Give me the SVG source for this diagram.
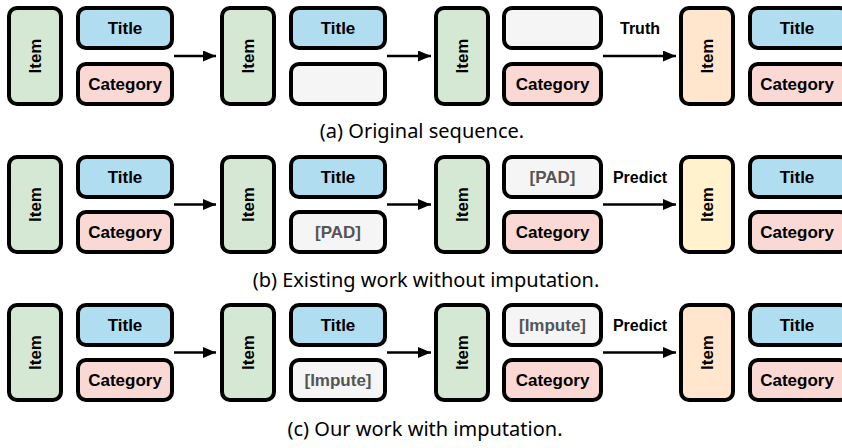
<svg xmlns="http://www.w3.org/2000/svg" width="842" height="448" viewBox="0 0 842 448">
<style>
.box{stroke:#000;stroke-width:4}
.item{fill:#d5e8d4}
.truth{fill:#ffe6cc}
.pred{fill:#fff2cc}
.title{fill:#b1ddf0}
.cat{fill:#fad9d5}
.empty{fill:#f5f5f5}
.t{font-family:"Liberation Sans",Arial,sans-serif;font-weight:bold;font-size:17px;fill:#000;text-anchor:middle}
.g{fill:#555}
.lbl{font-family:"Liberation Sans",Arial,sans-serif;font-weight:bold;font-size:16px;fill:#000;text-anchor:middle}
.cap{font-family:"Linux Biolinum","Noto Sans",sans-serif;font-size:20px;fill:#000;text-anchor:middle}
.arr{stroke:#000;stroke-width:2.5;fill:none;marker-end:url(#ah)}
</style>
<defs>
<marker id="ah" markerUnits="userSpaceOnUse" markerWidth="13" markerHeight="11" refX="13" refY="5.5" orient="auto">
<path d="M0,0 L13,5.5 L0,11 z" fill="#000"/>
</marker>
</defs>
<rect width="842" height="448" fill="#fff"/>

<!-- Row a -->
<g id="a1">
<rect class="box item" x="9" y="8" width="52" height="96" rx="8"/>
<text class="t" transform="translate(41,56) rotate(-90)">Item</text>
<rect class="box title" x="78" y="8" width="94" height="40" rx="8"/>
<text class="t" x="125" y="34">Title</text>
<rect class="box cat" x="78" y="64" width="94" height="40" rx="8"/>
<text class="t" x="125" y="90">Category</text>
</g>
<g id="a2">
<rect class="box item" x="222" y="8" width="52" height="96" rx="8"/>
<text class="t" transform="translate(254,56) rotate(-90)">Item</text>
<rect class="box title" x="291" y="8" width="94" height="40" rx="8"/>
<text class="t" x="338" y="34">Title</text>
<rect class="box empty" x="291" y="64" width="94" height="40" rx="8"/>
</g>
<g id="a3">
<rect class="box item" x="436" y="8" width="52" height="96" rx="8"/>
<text class="t" transform="translate(468,56) rotate(-90)">Item</text>
<rect class="box empty" x="504" y="8" width="97" height="40" rx="8"/>
<rect class="box cat" x="504" y="64" width="97" height="40" rx="8"/>
<text class="t" x="552.5" y="90">Category</text>
</g>
<g id="a4">
<rect class="box truth" x="681" y="8" width="52" height="96" rx="8"/>
<text class="t" transform="translate(713,56) rotate(-90)">Item</text>
<rect class="box title" x="750" y="8" width="98" height="40" rx="8"/>
<text class="t" x="797" y="34">Title</text>
<rect class="box cat" x="750" y="64" width="98" height="40" rx="8"/>
<text class="t" x="797" y="90">Category</text>
</g>
<text class="cap" x="422" y="138">(a) Original sequence.</text>

<!-- Row b -->
<g id="b1">
<rect class="box item" x="9" y="157" width="52" height="95" rx="8"/>
<text class="t" transform="translate(41,204.5) rotate(-90)">Item</text>
<rect class="box title" x="78" y="157" width="94" height="40" rx="8"/>
<text class="t" x="125" y="183">Title</text>
<rect class="box cat" x="78" y="212" width="94" height="40" rx="8"/>
<text class="t" x="125" y="238">Category</text>
</g>
<g id="b2">
<rect class="box item" x="222" y="157" width="52" height="95" rx="8"/>
<text class="t" transform="translate(254,204.5) rotate(-90)">Item</text>
<rect class="box title" x="291" y="157" width="94" height="40" rx="8"/>
<text class="t" x="338" y="183">Title</text>
<rect class="box empty" x="291" y="212" width="94" height="40" rx="8"/>
<text class="t g" x="338" y="238">[PAD]</text>
</g>
<g id="b3">
<rect class="box item" x="436" y="157" width="52" height="95" rx="8"/>
<text class="t" transform="translate(468,204.5) rotate(-90)">Item</text>
<rect class="box empty" x="504" y="157" width="97" height="40" rx="8"/>
<text class="t g" x="552.5" y="183">[PAD]</text>
<rect class="box cat" x="504" y="212" width="97" height="40" rx="8"/>
<text class="t" x="552.5" y="238">Category</text>
</g>
<g id="b4">
<rect class="box pred" x="681" y="157" width="52" height="95" rx="8"/>
<text class="t" transform="translate(713,204.5) rotate(-90)">Item</text>
<rect class="box title" x="750" y="157" width="98" height="40" rx="8"/>
<text class="t" x="797" y="183">Title</text>
<rect class="box cat" x="750" y="212" width="98" height="40" rx="8"/>
<text class="t" x="797" y="238">Category</text>
</g>
<text class="cap" x="426" y="287">(b) Existing work without imputation.</text>

<!-- Row c -->
<g id="c1">
<rect class="box item" x="9" y="305" width="52" height="95" rx="8"/>
<text class="t" transform="translate(41,352.5) rotate(-90)">Item</text>
<rect class="box title" x="78" y="305" width="94" height="40" rx="8"/>
<text class="t" x="125" y="331">Title</text>
<rect class="box cat" x="78" y="360" width="94" height="40" rx="8"/>
<text class="t" x="125" y="386">Category</text>
</g>
<g id="c2">
<rect class="box item" x="222" y="305" width="52" height="95" rx="8"/>
<text class="t" transform="translate(254,352.5) rotate(-90)">Item</text>
<rect class="box title" x="291" y="305" width="94" height="40" rx="8"/>
<text class="t" x="338" y="331">Title</text>
<rect class="box empty" x="291" y="360" width="94" height="40" rx="8"/>
<text class="t g" x="338" y="386">[Impute]</text>
</g>
<g id="c3">
<rect class="box item" x="436" y="305" width="52" height="95" rx="8"/>
<text class="t" transform="translate(468,352.5) rotate(-90)">Item</text>
<rect class="box empty" x="504" y="305" width="97" height="40" rx="8"/>
<text class="t g" x="552.5" y="331">[Impute]</text>
<rect class="box cat" x="504" y="360" width="97" height="40" rx="8"/>
<text class="t" x="552.5" y="386">Category</text>
</g>
<g id="c4">
<rect class="box truth" x="681" y="305" width="52" height="95" rx="8"/>
<text class="t" transform="translate(713,352.5) rotate(-90)">Item</text>
<rect class="box title" x="750" y="305" width="98" height="40" rx="8"/>
<text class="t" x="797" y="331">Title</text>
<rect class="box cat" x="750" y="360" width="98" height="40" rx="8"/>
<text class="t" x="797" y="386">Category</text>
</g>
<text class="cap" x="425" y="436">(c) Our work with imputation.</text>

<g id="connectors">
<line class="arr" x1="174" y1="56" x2="216" y2="56"/>
<line class="arr" x1="387" y1="56" x2="431" y2="56"/>
<line class="arr" x1="603" y1="56" x2="676" y2="56"/>
<text class="lbl" x="640" y="34">Truth</text>
<line class="arr" x1="174" y1="204.5" x2="216" y2="204.5"/>
<line class="arr" x1="387" y1="204.5" x2="431" y2="204.5"/>
<line class="arr" x1="603" y1="204.5" x2="676" y2="204.5"/>
<text class="lbl" x="640" y="183">Predict</text>
<line class="arr" x1="174" y1="352.5" x2="216" y2="352.5"/>
<line class="arr" x1="387" y1="352.5" x2="431" y2="352.5"/>
<line class="arr" x1="603" y1="352.5" x2="676" y2="352.5"/>
<text class="lbl" x="640" y="331">Predict</text>
</g>
</svg>
